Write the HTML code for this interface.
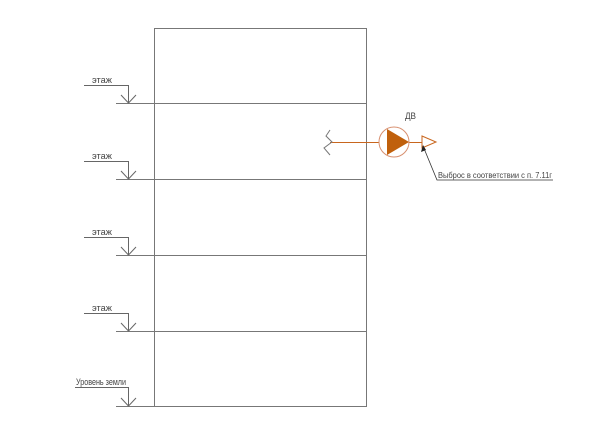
<!DOCTYPE html>
<html><head><style>body{margin:0;background:#fff}svg{display:block}</style></head><body>
<svg width="600" height="424" viewBox="0 0 600 424" xmlns="http://www.w3.org/2000/svg" font-family="Liberation Sans, sans-serif">
<g stroke="#777" stroke-width="1" fill="none">
<rect x="154.5" y="28.5" width="212" height="378"/>
<line x1="116" y1="103.5" x2="366" y2="103.5"/>
<line x1="116" y1="179.5" x2="366" y2="179.5"/>
<line x1="116" y1="255.5" x2="366" y2="255.5"/>
<line x1="116" y1="331.5" x2="366" y2="331.5"/>
<line x1="116" y1="406.5" x2="154" y2="406.5"/>
</g>
<g stroke="#666" stroke-width="1" fill="none">
<path d="M84 85.5H128.5V103 M121 95L128.5 103L136 95"/>
<path d="M84 161.5H128.5V179 M121 171L128.5 179L136 171"/>
<path d="M84 237.5H128.5V255 M121 247L128.5 255L136 247"/>
<path d="M84 313.5H128.5V331 M121 323L128.5 331L136 323"/>
<path d="M75 387.5H128.5V406 M121 398L128.5 406L136 398"/>
</g>
<g font-size="9" fill="#444">
<text x="92" y="83" textLength="20" lengthAdjust="spacingAndGlyphs">этаж</text>
<text x="92" y="159" textLength="20" lengthAdjust="spacingAndGlyphs">этаж</text>
<text x="92" y="235" textLength="20" lengthAdjust="spacingAndGlyphs">этаж</text>
<text x="92" y="311" textLength="20" lengthAdjust="spacingAndGlyphs">этаж</text>
<text x="76" y="385" textLength="50" lengthAdjust="spacingAndGlyphs">Уровень земли</text>
<text x="405" y="119" textLength="11" lengthAdjust="spacingAndGlyphs">ДВ</text>
<text x="438" y="178" font-size="8" textLength="114" lengthAdjust="spacingAndGlyphs">Выброс в соответствии с п. 7.11г</text>
</g>
<g stroke="#c8661e" stroke-width="1" fill="none">
<line x1="330" y1="142.5" x2="379" y2="142.5"/>
<line x1="409" y1="142.5" x2="422" y2="142.5"/>
<path d="M330 130L326 136L332 142L324 148L330 155" stroke="#777"/>
<circle cx="394" cy="142" r="15" stroke="#d89070"/>
<polygon points="422,136 436,142 422,148"/>
</g>
<polygon points="387,129 409,142 387,155" fill="#c0600c"/>
<g stroke="#333" stroke-width="0.8" fill="none">
<path d="M423 146L437 180H553"/>
</g>
<polygon points="423,145 421,152 426,150" fill="#222"/>
</svg>
</body></html>
